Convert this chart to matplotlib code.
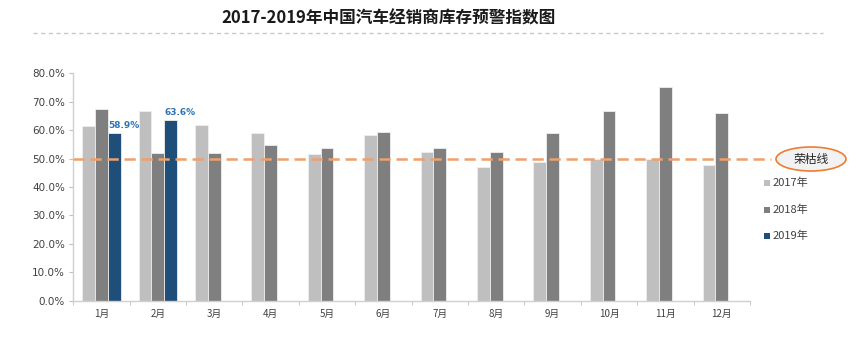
import matplotlib
matplotlib.use("Agg")
import matplotlib.pyplot as plt
from matplotlib.patches import Ellipse, Rectangle
from matplotlib.lines import Line2D
import numpy as np

plt.rcParams['font.family'] = ['Noto Sans CJK SC', 'DejaVu Sans']

months = ['1月', '2月', '3月', '4月', '5月', '6月', '7月', '8月', '9月', '10月', '11月', '12月']
series_names = ['2017年', '2018年', '2019年']
v2017 = [61.5, 66.6, 61.9, 59.1, 51.7, 58.2, 52.4, 47.0, 48.8, 49.9, 49.9, 47.6]
v2018 = [67.3, 52.1, 52.1, 54.7, 53.6, 59.4, 53.8, 52.2, 58.9, 66.9, 75.3, 65.9]
v2019 = [58.9, 63.6]
threshold = 50.0
threshold_label = '荣枯线'
title = '2017-2019年中国汽车经销商库存预警指数图'
colors = ['#BFBFBF', '#7F7F7F', '#1F4E79']

W, H = 857, 340
fig = plt.figure(figsize=(W / 100, H / 100), dpi=100)
ax = fig.add_axes([73.3 / W, 1 - 300.7 / H, (750 - 73.3) / W, (300.7 - 73.3) / H])

x = np.arange(len(months))
bw = 0.228
data = [v2017, v2018, v2019]
for i, (vals, c) in enumerate(zip(data, colors)):
    xs = x[:len(vals)] + (i - 1) * bw
    ax.bar(xs, vals, width=bw, color=c, edgecolor='#EEEEEE', linewidth=0.6, zorder=2)

for xi, v in zip(x[:len(v2019)] + bw, v2019):
    ax.text(xi - bw / 2, v + 1.0, f'{v:.1f}%', ha='left', va='bottom', fontsize=6.5,
            fontweight='bold', color='#2E75B6', family=['DejaVu Sans'], zorder=4)

ax.set_xlim(-0.5, len(months) - 0.5)
ax.set_ylim(0, 80)
ax.set_yticks(np.arange(0, 81, 10))
ax.set_yticklabels([f'{t:.1f}%' for t in np.arange(0, 81, 10)], family=['DejaVu Sans'])
ax.set_xticks(x)
ax.set_xticklabels(months)
ax.set_xticks(np.arange(-0.5, len(months), 1), minor=True)
ax.tick_params(axis='x', which='major', length=0, labelsize=7, colors='#404040', pad=6)
ax.tick_params(axis='x', which='minor', length=3, color='#BFBFBF')
ax.tick_params(axis='y', length=3, color='#BFBFBF', labelsize=7.5, labelcolor='#404040', pad=3)
for s in ['top', 'right']:
    ax.spines[s].set_visible(False)
for s in ['left', 'bottom']:
    ax.spines[s].set_color('#D0D0D0')
    ax.spines[s].set_linewidth(1.0)

# threshold line extending to the label
ax.plot([-0.5, len(months) - 0.5 + 0.37], [threshold, threshold], color='#F0A06A',
        lw=1.8, linestyle=(0, (4.5, 2.3)), clip_on=False, zorder=3)

# ellipse label
ell = Ellipse((811 / W, 1 - 159 / H), 70 / W, 24 / H, transform=fig.transFigure,
              facecolor='#F2F2F2', edgecolor='#ED7D31', lw=1.2)
fig.add_artist(ell)
fig.text(811 / W, 1 - 159 / H, threshold_label, ha='center', va='center', fontsize=8.5, color='#262626')

# legend
for i, (name, c) in enumerate(zip(series_names, colors)):
    yy = 183 + i * 26.5
    fig.add_artist(Rectangle((764 / W, 1 - (yy + 3) / H), 6 / W, 6 / H, transform=fig.transFigure,
                             facecolor=c, edgecolor='none'))
    fig.text(773 / W, 1 - yy / H, name, ha='left', va='center', fontsize=8, color='#404040')

# title and separator
fig.text(388 / W, 1 - 18 / H, title, ha='center', va='center', fontsize=12, fontweight='bold', color='#1a1a1a')
fig.add_artist(Line2D([33 / W, 823 / W], [1 - 33 / H, 1 - 33 / H], transform=fig.transFigure,
                      color='#C8C8C8', lw=1.0, linestyle=(0, (3, 2.5))))

fig.savefig('out.png', dpi=100)
